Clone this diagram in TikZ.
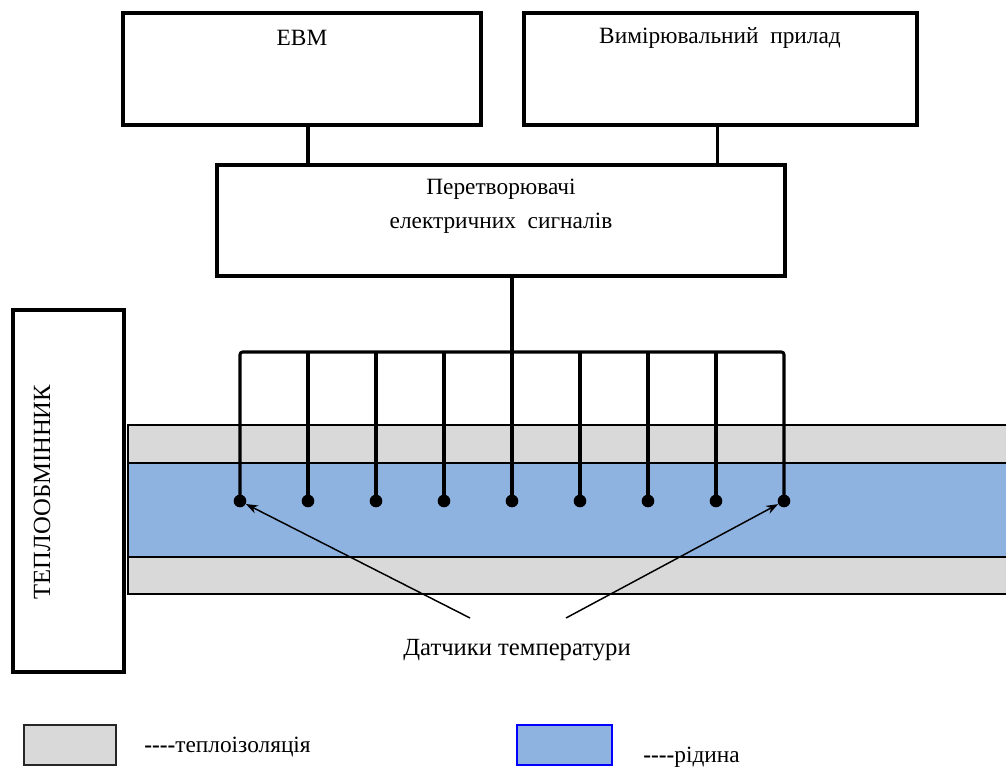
\documentclass[tikz,border=0pt]{standalone}
\usepackage{fontspec}
\setmainfont{Liberation Serif}
\usetikzlibrary{arrows.meta}
\definecolor{insul}{HTML}{D9D9D9}
\definecolor{fluid}{HTML}{8EB3E1}
\newcommand{\legdash}{\textbf{-{}-{}-{}-}}
\begin{document}
\begin{tikzpicture}[x=0.75pt,y=-0.75pt,
  box/.style={draw=black,line width=2.3pt,inner sep=0pt,fill=white},
  txt/.style={inner sep=0pt,font=\fontsize{17.5}{21}\selectfont},
  bigtxt/.style={inner sep=0pt,font=\fontsize{18.5}{22}\selectfont},
  legtxt/.style={inner sep=0pt,anchor=west,font=\fontsize{17.5}{21}\selectfont},
  wire/.style={line width=2.3pt},
  sensor/.style={circle,fill=black,inner sep=0pt,minimum size=9.5pt},
  pointer/.style={line width=1.1pt,-{Stealth[length=9pt,width=6.5pt]}},
  band/.style={draw=black,line width=0.9pt}]
\useasboundingbox (0,0) rectangle (1006,767);
% bands
\fill[insul] (128,425) rectangle (1006,594);
\fill[fluid] (128,463) rectangle (1006,557);
\draw[band] (1006,425) -- (128,425) -- (128,594) -- (1006,594);
\draw[band] (128,463) -- (1006,463);
\draw[band] (128,557) -- (1006,557);
% boxes
\node[box,minimum width=268.5pt,minimum height=84pt] (ebm) at (302,69) {};
\node[txt] (ebmt) at (302,38) {ЕВМ};
\node[box,minimum width=294.75pt,minimum height=84pt] (vym) at (720.5,69) {};
\node[txt] (vymt) at (720,38) {Вимірювальний\ \ прилад};
\node[box,minimum width=426pt,minimum height=83.25pt] (conv) at (501,220.5) {};
\node[txt] (convt1) at (501,189) {Перетворювачі};
\node[txt] (convt2) at (501,223) {електричних\ \ сигналів};
\node[box,minimum width=83.25pt,minimum height=271.5pt] (hx) at (68.5,491) {};
\node[bigtxt,rotate=90] (hxt) at (42,492) {ТЕПЛООБМІННИК};
% sensors
\foreach \i/\x in {1/240,2/308,3/376,4/444,5/512,6/580,7/648,8/716,9/784}
  \node[sensor] (s\i) at (\x,501) {};
\coordinate (bus) at (512,352);
% connectors
\draw[wire] ([xshift=4.5pt]ebm.south) -- ([xshift=4.5pt]ebm.south |- conv.north);
\draw[wire] ([xshift=-2.6pt]vym.south) -- ([xshift=-2.6pt]vym.south |- conv.north);
\draw[wire] (conv.south -| s5) -- (s5.center);
\draw[wire,rounded corners=2pt] (s1.center) -- (s1 |- bus) -- (s9 |- bus) -- (s9.center);
\foreach \i in {2,3,4,6,7,8}
  \draw[wire] (s\i |- bus) -- (s\i.center);
% label and pointers
\node[bigtxt] (lbl) at (517,650) {Датчики температури};
\coordinate (p1) at (470,618);
\coordinate (p2) at (566,618);
\draw[pointer] (p1) -- (s1);
\draw[pointer] (p2) -- (s9);
% legend
\node[draw=black!85,line width=1.6pt,fill=insul,minimum width=69pt,minimum height=30pt,inner sep=0pt] (lg1) at (70,745) {};
\node[legtxt] (lg1t) at (144,747) {\legdash теплоізоляція};
\node[draw=blue,line width=1.2pt,fill=fluid,minimum width=71.25pt,minimum height=30pt,inner sep=0pt] (lg2) at (564.5,745) {};
\node[legtxt] (lg2t) at (643,757) {\legdash рідина};
\end{tikzpicture}
\end{document}
